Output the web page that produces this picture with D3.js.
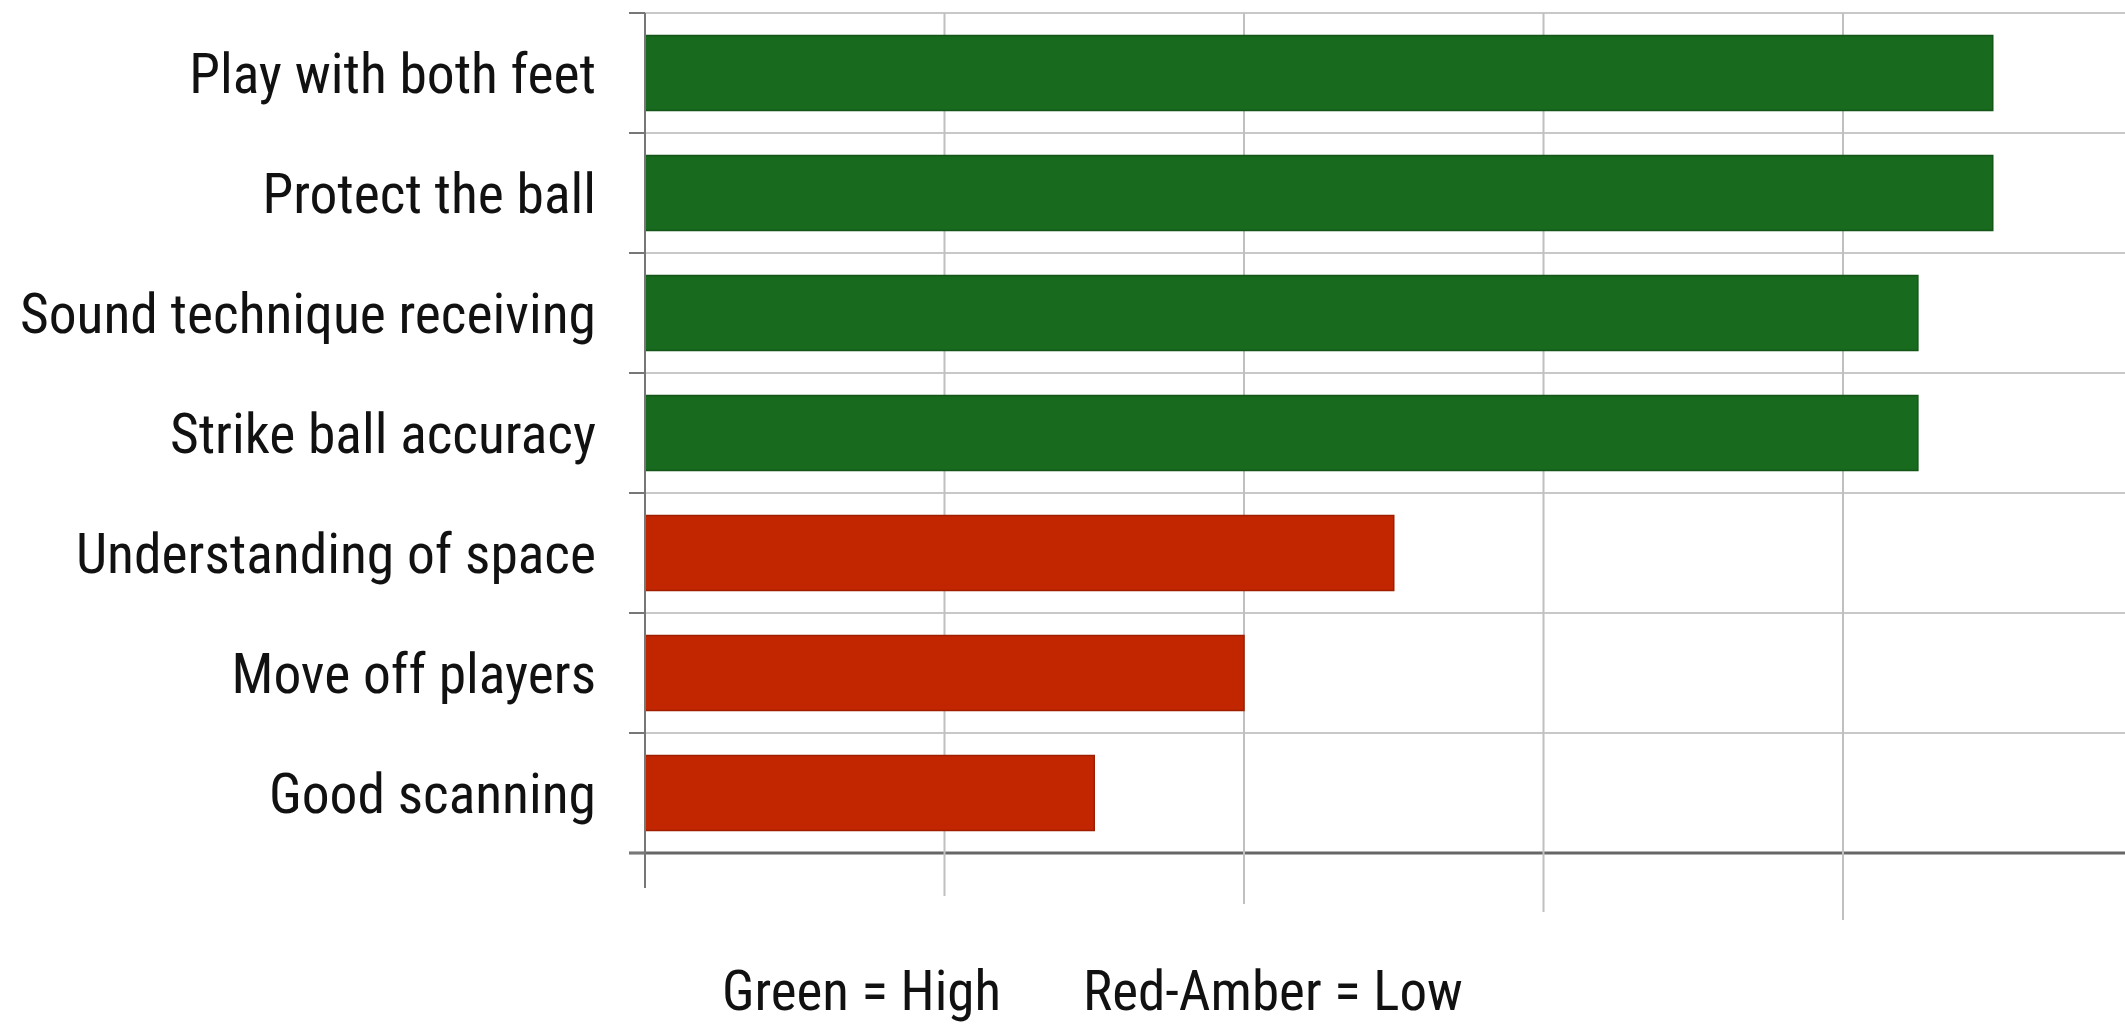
<!DOCTYPE html>
<html>
    <head>
        <meta charset="utf-8"/>
        <script src="https://cdnjs.cloudflare.com/ajax/libs/d3/7.8.5/d3.min.js"></script>
        <style>
            body { margin: 0; background: #fff; }
            text { font-family: "Roboto Condensed", "Liberation Sans Narrow", Roboto, sans-serif; font-stretch: condensed; fill: #111; }
        </style>
    </head>
    <body>
        <script>
            // skills and scores (axis labels were blanked out)
            const skills = ["Play with both feet", "Protect the ball", "Sound technique receiving",
                            "Strike ball accuracy", "Understanding of space", "Move off players", "Good scanning"]
            const scores = [4.5, 4.5, 4.25, 4.25, 2.5, 2, 1.5]
            const levels = ["high", "high", "high", "high", "low", "low", "low"]
            const xTicks = [0, 1, 2, 3, 4]

            const width = 2125, height = 1026
            const margin = {top: 13, left: 645, bottom: 173}

            const svg = d3.select('body').append('svg')
                .attr('width', width)
                .attr('height', height)

            const x = d3.scaleLinear()
                .domain([0, 5])
                .range([margin.left, margin.left + 5 * 299.5])

            const y = d3.scaleBand()
                .domain(skills)
                .range([margin.top, height - margin.bottom])
                .paddingInner(0.375)
                .paddingOuter(0.1875)

            const color = d3.scaleOrdinal()
                .domain(["high", "low"])
                .range(["#186a1e", "#c22600"])

            const bottom = height - margin.bottom
            const step = y.step()
            const bounds = d3.range(skills.length + 1).map(i => margin.top + i * step)

            // horizontal grid + little ticks left of the axis
            svg.append('g')
                .selectAll('line')
                .data(bounds)
                .join('line')
                .attr('x1', margin.left - 16)
                .attr('x2', width)
                .attr('y1', d => d)
                .attr('y2', d => d)
                .attr('stroke', (d, i) => i === skills.length ? '#666' : '#c8c8c8')
                .attr('stroke-width', (d, i) => i === skills.length ? 3 : 2)

            svg.selectAll('.tickl')
                .data(bounds)
                .join('line')
                .attr('x1', margin.left - 16)
                .attr('x2', margin.left)
                .attr('y1', d => d)
                .attr('y2', d => d)
                .attr('stroke', '#777')
                .attr('stroke-width', 2)

            // vertical grid, running a bit below the axis
            svg.append('g')
                .selectAll('line')
                .data(xTicks)
                .join('line')
                .attr('x1', d => x(d))
                .attr('x2', d => x(d))
                .attr('y1', margin.top)
                .attr('y2', (d, i) => bottom + 35 + i * 8)
                .attr('stroke', d => d === 0 ? '#777' : '#c0c0c0')
                .attr('stroke-width', 2)

            // bars
            svg.append('g')
                .selectAll('rect')
                .data(skills)
                .join('rect')
                .attr('x', x(0))
                .attr('y', d => y(d))
                .attr('width', (d, i) => x(scores[i]) - x(0))
                .attr('height', y.bandwidth())
                .attr('fill', (d, i) => color(levels[i]))
                .attr('stroke', (d, i) => d3.color(color(levels[i])).darker(0.6))
                .attr('stroke-width', 1.5)

            // redraw axis line on top of bars
            svg.append('line')
                .attr('x1', margin.left).attr('x2', margin.left)
                .attr('y1', margin.top).attr('y2', bottom + 35)
                .attr('stroke', '#777').attr('stroke-width', 2)

            // category labels
            svg.append('g')
                .attr('font-size', 55.5)
                .attr('text-anchor', 'end')
                .selectAll('text')
                .data(skills)
                .join('text')
                .attr('x', margin.left - 49)
                .attr('y', d => y(d) + y.bandwidth() / 2)
                .attr('dy', '0.36em')
                .text(d => d)

            // legend note under the chart
            const note = svg.append('text')
                .attr('x', 722)
                .attr('y', 1010)
                .attr('font-size', 55)
            note.append('tspan').text('Green = High')
            note.append('tspan').attr('dx', 82).text('Red-Amber = Low')
        </script>
    </body>
</html>
